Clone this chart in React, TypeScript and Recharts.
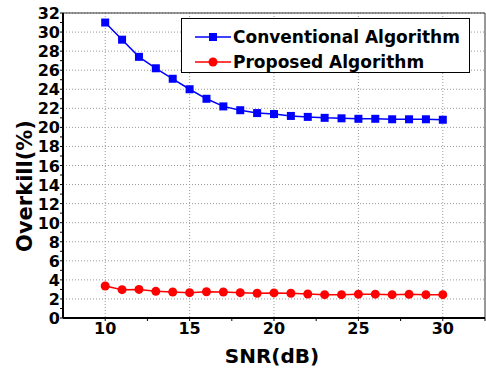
import { LineChart, Line, XAxis, YAxis, CartesianGrid, ReferenceArea } from 'recharts'

const snr = [10, 11, 12, 13, 14, 15, 16, 17, 18, 19, 20, 21, 22, 23, 24, 25, 26, 27, 28, 29, 30]
const conventional = [31.0, 29.2, 27.4, 26.2, 25.1, 24.0, 23.0, 22.2, 21.8, 21.5, 21.4, 21.2, 21.1, 21.0, 20.95, 20.9, 20.9, 20.85, 20.85, 20.85, 20.8]
const proposed = [3.36, 2.97, 3.0, 2.8, 2.73, 2.66, 2.76, 2.73, 2.66, 2.6, 2.63, 2.6, 2.52, 2.45, 2.45, 2.5, 2.5, 2.45, 2.48, 2.45, 2.45]

const xTicks = [10, 12.5, 15, 17.5, 20, 22.5, 25, 27.5, 30, 32.5]
const xGrid = [10, 15, 20, 25, 30]
const yTicks = Array.from({ length: 33 }, (_, i) => i)
const yGrid = [0, 2, 4, 6, 8, 10, 12, 14, 16, 18, 20, 22, 24, 26, 28, 30, 32]
const seriesNames = ['Conventional Algorithm', 'Proposed Algorithm']

const data = snr.map((s, i) => ({ snr: s, conventional: conventional[i], proposed: proposed[i] }))

const FONT = '"DejaVu Sans", sans-serif'

const XTick = ({ x, y, payload }: any) => {
  if (payload.value % 5 !== 0) return <g />
  return (
    <text x={x} y={y + 11} textAnchor="middle" fontFamily={FONT} fontWeight="bold" fontSize={16} fill="#000">
      {payload.value}
    </text>
  )
}

const YTick = ({ x, y, payload }: any) => {
  if (payload.value % 2 !== 0) return <g />
  return (
    <text x={x + 2} y={y + 6} textAnchor="end" fontFamily={FONT} fontWeight="bold" fontSize={16} fill="#000">
      {payload.value}
    </text>
  )
}

const Square = ({ cx, cy }: any) => <rect x={cx - 4} y={cy - 4} width={8} height={8} fill="#0000ff" />
const Circle = ({ cx, cy }: any) => <circle cx={cx} cy={cy} r={4.5} fill="#ff0000" />

const LegendBox = () => (
  <svg width={290} height={58} style={{ position: 'absolute', left: 181, top: 18 }}>
    <rect x={0.5} y={0.5} width={288} height={54} fill="#fff" stroke="#000" strokeWidth={1} />
    <line x1={14} y1={19} x2={50} y2={19} stroke="#0000ff" strokeWidth={1.5} />
    <rect x={28} y={15} width={8} height={8} fill="#0000ff" />
    <text x={52} y={25} fontFamily={FONT} fontWeight="bold" fontSize={17} fill="#000">{seriesNames[0]}</text>
    <line x1={14} y1={44} x2={50} y2={44} stroke="#ff0000" strokeWidth={1.5} />
    <circle cx={32} cy={44} r={4.5} fill="#ff0000" />
    <text x={52} y={50} fontFamily={FONT} fontWeight="bold" fontSize={17} fill="#000">{seriesNames[1]}</text>
  </svg>
)

export default function App() {
  return (
    <div style={{ position: 'absolute', left: 0, top: 0, width: 486, height: 372, background: '#fff' }}>
      <LineChart width={486} height={372} data={data} margin={{ top: 13, right: 1, bottom: 0, left: 0 }}>
        <CartesianGrid stroke="#999" strokeDasharray="1 2" verticalValues={xGrid} horizontalValues={yGrid} />
        <ReferenceArea x1={7.5} x2={32.5} y1={0} y2={32} fill="none" stroke="#333" strokeWidth={1} />
        <XAxis
          dataKey="snr"
          type="number"
          domain={[7.5, 32.5]}
          ticks={xTicks}
          interval={0}
          height={54}
          tickSize={3}
          tick={<XTick />}
          axisLine={{ stroke: '#000', strokeWidth: 2 }}
          tickLine={{ stroke: '#000' }}
          label={{
            content: () => (
              <text x={272} y={363} textAnchor="middle" fontFamily={FONT} fontWeight="bold" fontSize={20} fill="#000">
                SNR(dB)
              </text>
            ),
          }}
        />
        <YAxis
          type="number"
          domain={[0, 32]}
          ticks={yTicks}
          interval={0}
          width={63}
          tickSize={3}
          tick={<YTick />}
          axisLine={{ stroke: '#000', strokeWidth: 2 }}
          tickLine={{ stroke: '#000' }}
          label={{
            content: () => (
              <text transform="translate(32,186) rotate(-90)" textAnchor="middle" fontFamily={FONT} fontWeight="bold" fontSize={21} fill="#000">
                Overkill(%)
              </text>
            ),
          }}
        />
        <Line dataKey="conventional" name={seriesNames[0]} stroke="#0000ff" strokeWidth={1.5} dot={<Square />} isAnimationActive={false} />
        <Line dataKey="proposed" name={seriesNames[1]} stroke="#ff0000" strokeWidth={1.5} dot={<Circle />} isAnimationActive={false} />
      </LineChart>
      <LegendBox />
    </div>
  )
}
